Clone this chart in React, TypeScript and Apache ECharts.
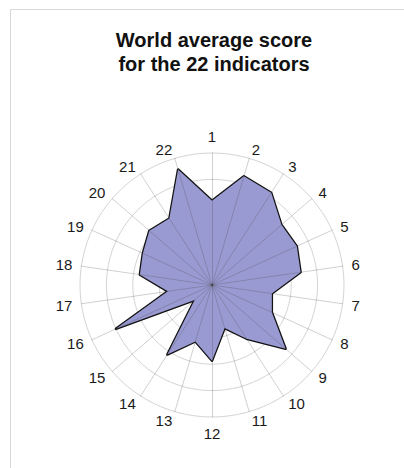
import React, { useEffect, useRef } from "react";
import * as echarts from "echarts";

const indicatorNames: string[] = [
  "1", "2", "3", "4", "5", "6", "7", "8", "9", "10", "11",
  "12", "13", "14", "15", "16", "17", "18", "19", "20", "21", "22",
];
const scores: number[] = [
  3.19, 4.29, 4.15, 3.48, 3.53, 3.39, 2.29, 2.49, 3.69, 2.42, 1.70,
  2.87, 2.23, 3.13, 0.87, 4.0, 1.69, 2.76, 2.88, 3.14, 2.99, 4.56,
];
const maxScore = 5;
const titleLines: string[] = ["World average score", "for the 22 indicators"];

export default function App() {
  const ref = useRef<HTMLDivElement>(null);
  useEffect(() => {
    if (!ref.current) return;
    const chart = echarts.init(ref.current, null, { renderer: "svg" });
    // ECharts radar runs counter-clockwise; reverse (keeping first) to go clockwise
    const order = [0, ...indicatorNames.map((_, i) => i).slice(1).reverse()];
    const indicators = order.map((i) => ({ name: indicatorNames[i], max: maxScore, min: 0 }));
    const blankIndicators = order.map(() => ({ name: "", max: maxScore, min: 0 }));
    const values = order.map((i) => scores[i]);
    const font = "Liberation Sans, Arial, sans-serif";
    chart.setOption({
      animation: false,
      backgroundColor: "#ffffff",
      title: {
        text: titleLines.join("\n"),
        left: 209,
        textAlign: "center",
        top: 23,
        textStyle: {
          fontFamily: font,
          fontWeight: "bold",
          fontSize: 20,
          lineHeight: 24,
          color: "#111",
        },
      },
      graphic: [
        { type: "line", shape: { x1: 10.5, y1: 9.5, x2: 404, y2: 9.5 }, style: { stroke: "#d8d8d8", lineWidth: 1 } },
        { type: "line", shape: { x1: 10.5, y1: 9.5, x2: 10.5, y2: 468 }, style: { stroke: "#d8d8d8", lineWidth: 1 } },
      ],
      radar: [
        {
          center: [212, 285],
          radius: 132,
          startAngle: 90,
          shape: "circle",
          splitNumber: 5,
          indicator: indicators,
          nameGap: 9,
          axisName: { color: "#1a1a1a", fontSize: 15, fontFamily: font },
          splitArea: { show: false },
          splitLine: { lineStyle: { color: "#d4d4d4", width: 1 } },
          axisLine: { show: false },
          axisTick: { show: false },
          axisLabel: { show: false },
          z: 1,
        },
        {
          center: [212, 285],
          radius: 132,
          startAngle: 90,
          shape: "circle",
          splitNumber: 5,
          indicator: blankIndicators,
          axisName: { show: false },
          splitArea: { show: false },
          splitLine: { show: false },
          axisLine: { lineStyle: { color: "rgba(60,60,60,0.24)", width: 1 } },
          axisTick: { show: false },
          axisLabel: { show: false },
          z: 5,
        },
      ],
      series: [
        {
          type: "radar",
          radarIndex: 0,
          symbol: "none",
          data: [{ value: values, name: "World average" }],
          lineStyle: { color: "#111", width: 2.5 },
          areaStyle: { color: "#9a9ad2", opacity: 1 },
          z: 2,
        },
      ],
    });
    return () => chart.dispose();
  }, []);
  return (
    <div
      ref={ref}
      style={{ position: "fixed", left: 0, top: 0, width: 404, height: 468 }}
    />
  );
}
